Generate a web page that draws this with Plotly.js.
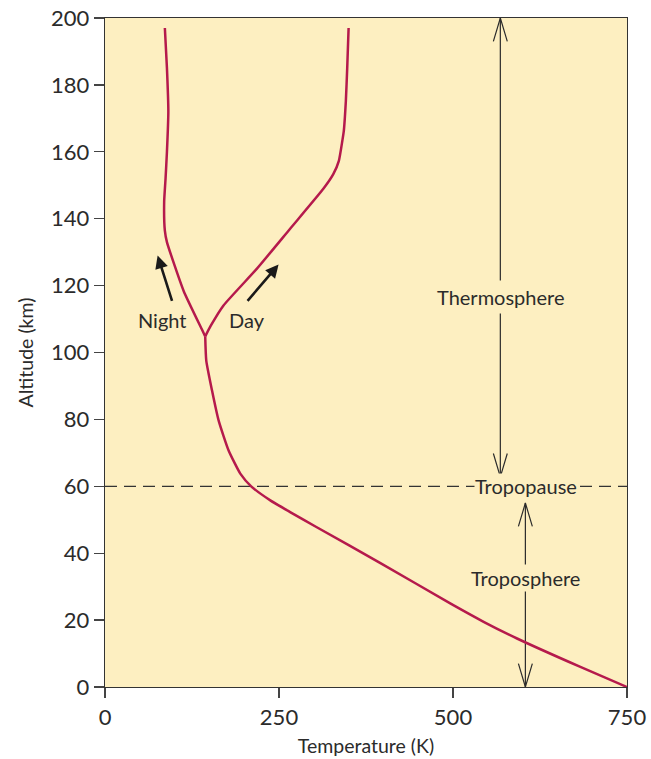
<!DOCTYPE html>
<html>
<head>
<meta charset="utf-8">
<script src="https://cdn.plot.ly/plotly-3.0.1.min.js"></script>
<style>
  html, body { margin: 0; padding: 0; background: #ffffff; }
  #chart { width: 651px; height: 759px; }
</style>
</head>
<body>
<div id="chart"></div>
<script>
// ---- Data ----
// Common profile from the surface up to the day/night split (Temperature K, Altitude km)
const lowerTemp = [750, 683, 592, 544, 496, 397, 303, 266, 237.5, 210, 194.4, 177.6, 163.2, 153.7, 145.5, 144];
const lowerAlt  = [0,   6,   14.5, 19.5, 25, 36.9, 47.9, 52.3, 55.8, 60, 63.8, 70.7, 79.7, 88.7, 97.6, 104.8];

// Night branch
const nightTemp = [144, 139, 113, 89, 86, 85, 87, 89, 91, 89, 86];
const nightAlt  = [104.8, 107, 118.4, 133, 136.4, 145, 152, 160, 172, 185, 197];

// Day branch
const dayTemp = [144, 152, 170, 218, 266, 314, 328, 336, 341, 343, 346, 348, 350];
const dayAlt  = [104.8, 108, 114, 125, 137, 149, 153.3, 157.3, 163.3, 166, 175, 185, 197];

// Axis ticks
const xTicks = [0, 250, 500, 750];
const yTicks = [0, 20, 40, 60, 80, 100, 120, 140, 160, 180, 200];

// Layer markers
const tropopauseAlt = 60;
const thermoArrow = {x: 568, yLow: 62.8, yHigh: 200};
const tropoArrow  = {x: 604, yLow: 0, yHigh: 55};

// Night / Day direction arrows (tail -> tip)
const nightArrow = {x0: 97, y0: 115, x1: 75.6, y1: 129};
const dayArrow   = {x0: 203, y0: 115, x1: 249.4, y1: 126.3};

// ---- Styling ----
const curveColor = '#B51A4C';
const inkColor = '#2b2b2b';
const bg = '#FDEFC1';
const fontFam = 'Lato, "Open Sans", sans-serif';

function vHead(x, y, dir) {
  // open V arrowhead; dir = +1 points up, -1 points down
  const hx = 10, hy = 7;
  return {x: [x - hx, x, x + hx], y: [y - dir * hy, y, y - dir * hy]};
}

function doubleArrow(a) {
  const up = vHead(a.x, a.yHigh, 1);
  const dn = vHead(a.x, a.yLow, -1);
  const ln = {color: inkColor, width: 1.2};
  return [
    {x: [a.x, a.x], y: [a.yLow, a.yHigh], mode: 'lines', line: ln, hoverinfo: 'skip', showlegend: false, cliponaxis: false},
    {x: up.x, y: up.y, mode: 'lines', line: ln, hoverinfo: 'skip', showlegend: false, cliponaxis: false},
    {x: dn.x, y: dn.y, mode: 'lines', line: ln, hoverinfo: 'skip', showlegend: false, cliponaxis: false}
  ];
}

const curveLine = {color: curveColor, width: 2.5, shape: 'spline', smoothing: 0.5};
const traces = [
  ...doubleArrow(thermoArrow),
  ...doubleArrow(tropoArrow),
  {x: lowerTemp, y: lowerAlt, mode: 'lines', line: curveLine, showlegend: false},
  {x: nightTemp, y: nightAlt, mode: 'lines', line: curveLine, showlegend: false},
  {x: dayTemp, y: dayAlt, mode: 'lines', line: curveLine, showlegend: false}
];

const labelFont = {family: fontFam, size: 20, color: inkColor};

const annotations = [
  {x: nightArrow.x1, y: nightArrow.y1, ax: nightArrow.x0, ay: nightArrow.y0, axref: 'x', ayref: 'y', xref: 'x', yref: 'y',
   text: '', showarrow: true, arrowhead: 2, arrowsize: 1, arrowwidth: 2.6, arrowcolor: '#1a1a1a'},
  {x: dayArrow.x1, y: dayArrow.y1, ax: dayArrow.x0, ay: dayArrow.y0, axref: 'x', ayref: 'y', xref: 'x', yref: 'y',
   text: '', showarrow: true, arrowhead: 2, arrowsize: 1, arrowwidth: 2.6, arrowcolor: '#1a1a1a'},
  {x: 82, y: 109.8, xref: 'x', yref: 'y', text: 'Night', showarrow: false, font: labelFont},
  {x: 204, y: 109.8, xref: 'x', yref: 'y', text: 'Day', showarrow: false, font: labelFont},
  {x: thermoArrow.x, y: 116.5, xref: 'x', yref: 'y', text: 'Thermosphere', showarrow: false, font: labelFont, bgcolor: bg, borderpad: 4},
  {x: tropoArrow.x, y: 32.5, xref: 'x', yref: 'y', text: 'Troposphere', showarrow: false, font: labelFont, bgcolor: bg, borderpad: 1},
  {x: tropoArrow.x + 1, y: tropopauseAlt, xref: 'x', yref: 'y', text: 'Tropopause', showarrow: false, font: labelFont, bgcolor: bg, borderpad: 0}
];

const layout = {
  width: 651, height: 759,
  margin: {l: 105, r: 24, t: 18, b: 72},
  paper_bgcolor: '#ffffff',
  plot_bgcolor: bg,
  font: {family: fontFam, color: inkColor, size: 22},
  showlegend: false,
  xaxis: {
    range: [0, 750], tickvals: xTicks, ticktext: xTicks.map(String),
    ticks: 'outside', ticklen: 10, tickwidth: 1.2, tickcolor: '#444',
    showline: true, linecolor: '#333', linewidth: 1.3, mirror: true,
    showgrid: false, zeroline: false,
    tickfont: {family: fontFam, size: 22, color: inkColor},
    title: {text: 'Temperature (K)', font: {family: fontFam, size: 19.5, color: inkColor}, standoff: 10}
  },
  yaxis: {
    range: [0, 200], tickvals: yTicks, ticktext: yTicks.map(String),
    ticks: 'outside', ticklen: 10, tickwidth: 1.2, tickcolor: '#444',
    showline: true, linecolor: '#333', linewidth: 1.3, mirror: true,
    showgrid: false, zeroline: false,
    tickfont: {family: fontFam, size: 22, color: inkColor},
    title: {text: 'Altitude (km)', font: {family: fontFam, size: 19.5, color: inkColor}, standoff: 12}
  },
  shapes: [
    {type: 'line', xref: 'paper', yref: 'y', x0: 0, x1: 1, y0: tropopauseAlt, y1: tropopauseAlt,
     line: {color: '#333', width: 1.2, dash: '12px,7px'}, layer: 'below'}
  ],
  annotations: annotations
};

Plotly.newPlot('chart', traces, layout, {displayModeBar: false, staticPlot: true});
</script>
</body>
</html>
